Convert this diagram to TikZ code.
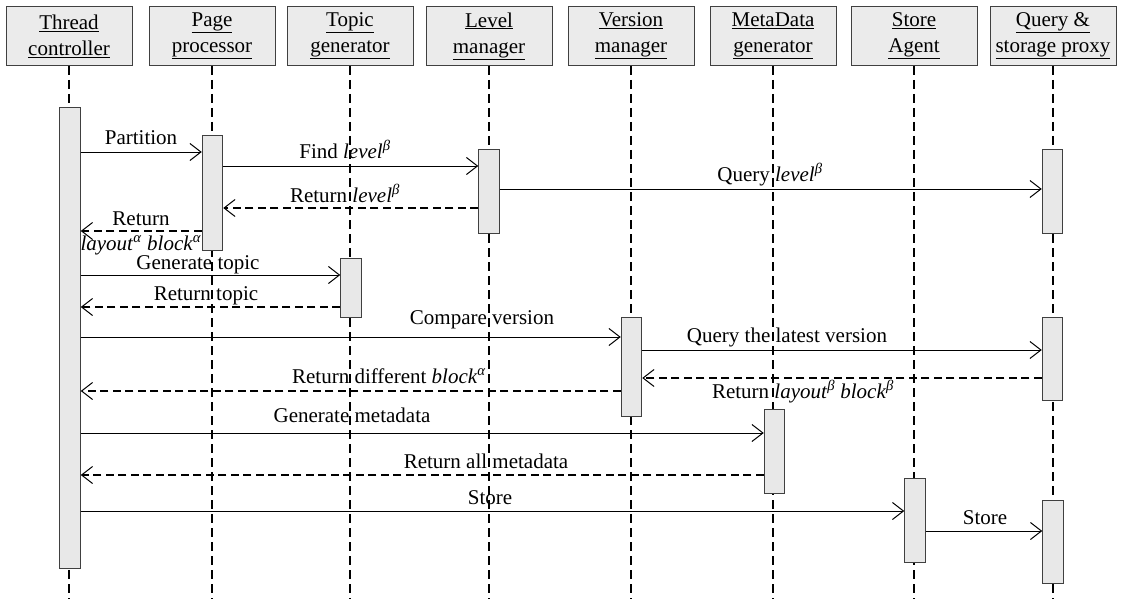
\documentclass[tikz,border=0pt]{standalone}
\usepackage{fontspec}
\setmainfont{Liberation Serif}
\usetikzlibrary{arrows.meta}
\newcommand{\fs}{\fontsize{21}{26}\selectfont}
\newcommand{\gb}{\textsuperscript{\textit{β}}}
\newcommand{\ga}{\textsuperscript{\textit{α}}}
\begin{document}
\begin{tikzpicture}[x=1pt,y=-1pt,
  hdr/.style={draw=black!75, fill=black!8, line width=1pt, minimum width=126pt, minimum height=59pt, align=center, inner sep=0pt, font=\fs, anchor=north},
  act/.style={draw=black!75, fill=black!9, line width=1pt, minimum width=20.5pt, inner sep=0pt, anchor=north},
  life/.style={line width=1.4pt, dash pattern=on 9pt off 5pt},
  msg/.style={line width=1pt, -{Straight Barb[length=11pt,width=17pt,line width=1pt]}},
  ret/.style={msg, line width=1.7pt, dash pattern=on 8pt off 4.5pt},
  lbl/.style={font=\fs, inner sep=0pt, anchor=base}
]
\useasboundingbox (0,0) rectangle (1124,599);
% headers
\node[hdr] (h1) at (69,6)   {\underline{Thread}\\\underline{controller}};
\node[hdr] (h2) at (212,6)  {\underline{Page}\\\underline{processor}};
\node[hdr] (h3) at (350,6)  {\underline{Topic}\\\underline{generator}};
\node[hdr] (h4) at (489,6)  {\underline{Level}\\\underline{manager}};
\node[hdr] (h5) at (631,6)  {\underline{Version}\\\underline{manager}};
\node[hdr] (h6) at (773,6)  {\underline{MetaData}\\\underline{generator}};
\node[hdr] (h7) at (914,6)  {\underline{Store}\\\underline{Agent}};
\node[hdr] (h8) at (1053,6) {\underline{Query \&}\\\underline{storage proxy}};
% lifeline ends
\foreach \i in {1,...,8} { \coordinate (e\i) at (h\i.south |- 0,599); }
\foreach \i in {1,...,8} { \draw[life] (h\i.south) -- (e\i); }
% activations
\node[act, minimum height=461pt] (aT)  at (70,107) {};
\node[act, minimum height=115pt] (aP)  at (212.5,135) {};
\node[act, minimum height=84pt]  (aL)  at (489,149) {};
\node[act, minimum height=84pt]  (aQ1) at (1052.5,149) {};
\node[act, minimum height=59pt]  (aTo) at (351,258) {};
\node[act, minimum height=99pt]  (aV)  at (631.5,317) {};
\node[act, minimum height=83pt]  (aQ2) at (1052.5,317) {};
\node[act, minimum height=84pt]  (aM)  at (774.5,409) {};
\node[act, minimum height=84pt]  (aS)  at (915,478) {};
\node[act, minimum height=83pt]  (aQ3) at (1053,500) {};
% messages
\draw[msg] (aT.east |- 0,152) -- (aP.west |- 0,152);
\node[lbl] (l1) at (141,144) {Partition};
\draw[msg] (aP.east |- 0,166) -- (aL.west |- 0,166);
\node[lbl] (l2) at (345,158) {Find \textit{level}\gb};
\draw[msg] (aL.east |- 0,189) -- (aQ1.west |- 0,189);
\node[lbl] (l3) at (770,181) {Query \textit{level}\gb};
\draw[ret] (aL.west |- 0,208) -- (aP.east |- 0,208);
\node[lbl] (l4) at (345,202) {Return \textit{level}\gb};
\draw[ret] (aP.west |- 0,231) -- (aT.east |- 0,231);
\node[lbl] (l5) at (141,225) {Return};
\node[lbl] (l5b) at (141,250) {\textit{layout}\ga{} \textit{block}\ga};
\draw[msg] (aT.east |- 0,275) -- (aTo.west |- 0,275);
\node[lbl] (l6) at (198,269) {Generate topic};
\draw[ret] (aTo.west |- 0,307) -- (aT.east |- 0,307);
\node[lbl] (l7) at (206,300) {Return topic};
\draw[msg] (aT.east |- 0,337) -- (aV.west |- 0,337);
\node[lbl] (l8) at (482,324) {Compare version};
\draw[msg] (aV.east |- 0,350) -- (aQ2.west |- 0,350);
\node[lbl] (l9) at (787,342) {Query the latest version};
\draw[ret] (aQ2.west |- 0,378) -- (aV.east |- 0,378);
\node[lbl] (l10) at (803,398) {Return \textit{layout}\gb{} \textit{block}\gb};
\draw[ret] (aV.west |- 0,391) -- (aT.east |- 0,391);
\node[lbl] (l11) at (389,383) {Return different \textit{block}\ga};
\draw[msg] (aT.east |- 0,433) -- (aM.west |- 0,433);
\node[lbl] (l12) at (352,422) {Generate metadata};
\draw[ret] (aM.west |- 0,475) -- (aT.east |- 0,475);
\node[lbl] (l13) at (486,468) {Return all metadata};
\draw[msg] (aT.east |- 0,511) -- (aS.west |- 0,511);
\node[lbl] (l14) at (490,504) {Store};
\draw[msg] (aS.east |- 0,531) -- (aQ3.west |- 0,531);
\node[lbl] (l15) at (985,524) {Store};
\end{tikzpicture}
\end{document}
